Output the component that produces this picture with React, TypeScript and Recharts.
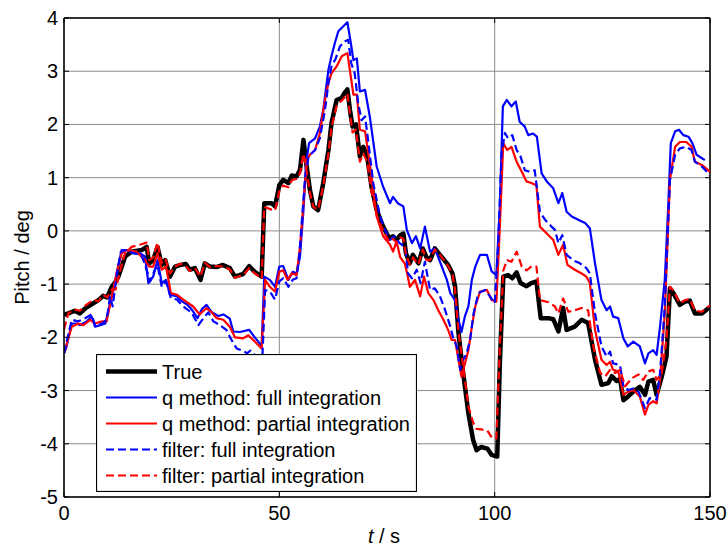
import React from 'react';
import { LineChart, Line, XAxis, YAxis, CartesianGrid, ReferenceLine, Legend } from 'recharts';

// Pitch angle traces, [time (s), pitch (deg)]
const truePitch: [number, number][] = [
  [0, -1.58], [1, -1.55], [2.5, -1.5], [3.7, -1.55], [5, -1.45], [6.8, -1.36], [8, -1.3], [9.1, -1.22],
  [10, -1.25], [11.1, -1.05], [12, -0.95], [12.6, -0.86], [13.5, -0.65], [14.2, -0.48], [15.7, -0.39],
  [18, -0.36], [19.2, -0.3], [19.8, -0.61], [20.7, -0.55], [21.7, -0.3], [22.7, -0.64], [23.5, -0.55],
  [24.6, -0.86], [25.8, -0.67], [27, -0.64], [28.3, -0.62], [29.2, -0.73], [30.4, -0.7], [31.7, -0.92],
  [32.7, -0.61], [33.9, -0.67], [35.4, -0.68], [36.9, -0.64], [38.5, -0.7], [39.7, -0.86], [41.6, -0.81],
  [43, -0.66], [44.3, -0.77], [45.9, -0.86], [46.5, 0.52], [48.2, 0.52], [49, 0.46], [50, 0.86],
  [50.9, 0.96], [52.1, 0.9], [52.9, 1.04], [54, 1.02], [54.8, 1.15], [55.6, 1.71], [56.2, 1.3],
  [57.1, 0.77], [57.9, 0.46], [59, 0.39], [60.2, 0.9], [61.4, 1.52], [62.1, 2.02], [63.3, 2.46],
  [64.5, 2.5], [65.1, 2.59], [65.8, 2.66], [66.4, 2.27], [67, 1.96], [67.8, 2.0], [68.7, 1.4],
  [69.5, 1.58], [70.4, 1.4], [71.4, 0.83], [72.6, 0.39], [74.1, 0.08], [75.5, -0.14], [76.4, -0.1],
  [77.2, -0.17], [78.1, -0.08], [78.8, -0.05], [79.4, -0.42], [80.3, -0.61], [81, -0.45], [82.3, -0.61],
  [83.3, -0.33], [84.2, -0.5], [85, -0.55], [86.1, -0.33], [87.3, -0.45], [89.2, -0.64], [90.2, -0.8],
  [90.8, -1.05], [91.6, -1.92], [92.7, -2.68], [93.9, -3.43], [95, -3.93], [95.8, -4.12], [96.9, -4.06],
  [98.3, -4.09], [99.3, -4.21], [100.6, -4.24], [101.2, -2.49], [102, -0.86], [103.1, -0.83],
  [104.1, -0.89], [105.1, -0.78], [106, -0.98], [107.4, -1.04], [108.5, -0.98], [109.7, -0.95],
  [110.7, -1.64], [112.5, -1.64], [113.6, -1.66], [114.8, -1.89], [115.9, -1.45], [116.7, -1.86],
  [118.6, -1.8], [120.2, -1.67], [121.7, -1.73], [123.3, -2.42], [124.8, -2.89], [126.4, -2.86],
  [127.2, -2.73], [128.3, -2.82], [129.1, -2.78], [129.9, -3.18], [131, -3.11], [132.2, -3.02],
  [133.7, -2.93], [134.9, -3.08], [135.7, -2.83], [136.8, -2.8], [137.6, -3.08], [138.8, -2.74],
  [139.9, -2.36], [140.7, -1.08], [141.5, -1.17], [143, -1.39], [144.2, -1.33], [145.3, -1.31],
  [146.5, -1.55], [148.1, -1.55], [149.2, -1.48], [150, -1.43],
];

const qFull: [number, number][] = [
  [0, -2.3], [0.5, -2.2], [1.8, -1.74], [2.9, -1.74], [3.7, -1.77], [5.3, -1.7], [6.4, -1.61], [7.2, -1.8],
  [8.4, -1.77], [9.6, -1.74], [10.7, -1.36], [11.5, -1.11], [12.2, -0.8], [13.4, -0.36], [14.5, -0.36],
  [16.1, -0.42], [17.6, -0.42], [18.8, -0.48], [19.6, -0.98], [20.7, -0.86], [21.7, -0.55], [22.7, -0.98],
  [23.7, -0.92], [24.6, -1.2], [26.2, -1.23], [27.3, -1.32], [28.5, -1.38], [29.6, -1.47], [31, -1.64],
  [32, -1.47], [33.1, -1.39], [34.3, -1.53], [35.8, -1.6], [37, -1.57], [38.5, -1.65], [39.3, -1.89],
  [40.8, -1.9], [43, -1.86], [44.3, -2.0], [45.9, -2.16], [46.5, -0.86], [47.8, -0.92], [49, -1.05],
  [50, -0.67], [50.9, -0.66], [52.1, -0.92], [53.1, -0.77], [54, -0.8], [54.8, -0.48], [55.6, 0.39],
  [56.2, 1.27], [56.9, 1.65], [58.3, 1.74], [59.4, 1.96], [60.2, 2.27], [61.4, 3.03], [62.1, 3.28],
  [62.9, 3.53], [63.7, 3.75], [64.8, 3.84], [65.8, 3.92], [66.6, 3.53], [67.2, 3.21], [68, 3.24],
  [68.7, 2.62], [69.9, 2.65], [71, 2.15], [72.6, 1.21], [74.1, 0.83], [75.7, 0.52], [76.4, 0.64],
  [77.5, 0.52], [78.8, 0.46], [79.6, 0.02], [80.8, -0.23], [81.7, -0.1], [82.7, -0.33], [83.8, 0.08],
  [85, -0.39], [86.1, -0.33], [87.3, -0.58], [88.9, -0.92], [89.7, -1.17], [90.8, -1.3], [91.6, -1.67],
  [92.3, -1.9], [93.1, -1.6], [93.9, -1.42], [94.7, -0.92], [95.5, -0.67], [96.6, -0.45], [98.2, -0.45],
  [99.3, -0.76], [100.4, -0.83], [101.2, 0.46], [101.9, 2.34], [102.8, 2.46], [103.9, 2.34],
  [104.9, 2.43], [105.8, 2.05], [107, 1.96], [107.8, 1.8], [108.9, 1.83], [109.8, 1.77], [110.9, 1.08],
  [112.1, 0.93], [113.6, 0.8], [114.8, 0.52], [115.7, 0.71], [116.7, 0.36], [117.9, 0.27], [119.4, 0.21],
  [121, 0.15], [122.1, 0.05], [123.3, -0.61], [124.8, -1.3], [126, -1.49], [126.8, -1.42], [127.5, -1.61],
  [128.7, -1.64], [129.9, -2.02], [130.9, -2.17], [132.2, -2.08], [133.7, -2.17], [134.9, -2.49],
  [135.7, -2.3], [136.8, -2.24], [137.6, -2.33], [138.4, -1.8], [139.5, -0.92], [140.3, 0.46],
  [140.9, 1.65], [141.9, 1.87], [142.8, 1.9], [143.8, 1.8], [145, 1.77], [145.9, 1.65], [146.9, 1.43],
  [148.8, 1.33],
];

const qPartial: [number, number][] = [
  [0, -2.3], [1.8, -1.8], [3.3, -1.74], [4.5, -1.77], [6.1, -1.67], [7.2, -1.74], [8.8, -1.7], [9.9, -1.7],
  [11.1, -1.23], [12.2, -0.8], [13.4, -0.42], [14.5, -0.36], [16.8, -0.39], [18.8, -0.55], [19.8, -0.67],
  [20.7, -0.67], [21.7, -0.42], [22.7, -0.73], [23.7, -0.67], [24.8, -1.17], [26.2, -1.2], [27.7, -1.29],
  [28.9, -1.36], [30, -1.42], [31.5, -1.57], [33.1, -1.45], [34.3, -1.53], [35.4, -1.64], [37, -1.67],
  [38.5, -1.8], [39.7, -2.0], [41.6, -2.02], [42.8, -1.96], [44.3, -2.08], [45.9, -2.21], [46.7, -0.92],
  [47.8, -1.05], [49, -1.14], [50, -0.77], [50.9, -0.74], [51.9, -0.92], [52.9, -0.8], [54, -0.83],
  [54.8, -0.3], [55.6, 0.52], [56.4, 1.33], [57.1, 1.43], [58.3, 1.52], [59.4, 1.83], [60.6, 2.46],
  [61.4, 2.78], [62.1, 2.96], [63.3, 3.09], [64.5, 3.28], [65.8, 3.34], [66.6, 2.9], [67.2, 2.56],
  [68, 2.56], [68.7, 1.9], [69.9, 1.87], [71, 1.27], [72.6, 0.27], [74.1, -0.1], [75.7, -0.26],
  [76.4, -0.39], [77.2, -0.2], [78.1, -0.5], [79.1, -0.61], [79.6, -0.77], [80.3, -1.05], [81.5, -0.92],
  [82.7, -1.23], [83.6, -0.86], [84.6, -1.17], [85.8, -1.3], [86.9, -1.49], [88.1, -1.67], [89.2, -1.86],
  [90, -2.05], [90.8, -2.05], [91.6, -2.42], [92.3, -2.74], [93.1, -2.49], [93.9, -2.24], [94.7, -1.8],
  [95.5, -1.42], [96.6, -1.14], [98.2, -1.11], [99.3, -1.3], [100.4, -1.33], [101.2, 0.08], [102, 1.65],
  [102.9, 1.52], [103.9, 1.58], [105.1, 1.3], [106.3, 1.11], [107.4, 0.93], [108.5, 0.9], [109.7, 0.86],
  [110.5, 0.08], [112.1, -0.05], [113.6, -0.17], [114.8, -0.45], [115.9, -0.26], [116.9, -0.64],
  [118.6, -0.73], [120.2, -0.8], [121.3, -0.86], [122.1, -0.98], [123.3, -1.86], [124.8, -2.42],
  [126, -2.52], [126.8, -2.46], [127.5, -2.61], [128.7, -2.64], [129.9, -3.08], [131, -3.02],
  [132.2, -2.99], [133.7, -3.11], [134.9, -3.45], [135.7, -3.27], [136.8, -3.2], [137.6, -3.24],
  [138.4, -2.8], [139.5, -1.55], [140.7, 0.96], [141.9, 1.58], [143, 1.67], [144.5, 1.67], [145.7, 1.58],
  [146.5, 1.3], [148.1, 1.24], [150, 1.11],
];

const filterFull: [number, number][] = [
  [0, -2.3], [1.8, -1.67], [3.3, -1.7], [4.9, -1.64], [6.4, -1.57], [7.2, -1.77], [8.8, -1.74], [9.9, -1.67],
  [10.7, -1.23], [11.3, -1.42], [12.2, -0.86], [13.2, -0.39], [14.5, -0.36], [16.1, -0.42], [18, -0.45],
  [19.2, -0.73], [20, -0.95], [21.1, -0.73], [21.7, -0.64], [22.7, -1.05], [23.7, -0.95], [24.8, -1.26],
  [26.2, -1.29], [27.3, -1.39], [28.5, -1.47], [29.6, -1.53], [31.2, -1.77], [32.4, -1.64], [33.5, -1.53],
  [34.7, -1.7], [36.2, -1.77], [37.7, -1.86], [38.9, -2.05], [40.1, -2.21], [41.5, -2.25], [42.5, -2.3],
  [43.3, -2.25], [44.5, -2.35], [45.7, -2.4], [46.1, -2.3], [46.7, -1.11], [47.8, -1.14], [49, -1.29],
  [50, -0.95], [50.9, -0.89], [52.1, -1.05], [53.1, -0.92], [54, -0.89], [54.6, -0.48], [55.2, 0.14],
  [56, 1.02], [56.8, 1.4], [58.3, 1.52], [59.4, 1.74], [60.6, 2.27], [61.4, 2.78], [62.1, 3.09],
  [63.1, 3.24], [64.1, 3.47], [65.2, 3.56], [66, 3.59], [66.7, 3.15], [67.5, 2.96], [68.3, 2.4],
  [69.1, 2.08], [69.9, 2.15], [70.7, 1.65], [71.8, 0.9], [73.4, 0.27], [74.5, 0.02], [75.7, -0.17],
  [76.8, -0.1], [77.9, -0.23], [79.2, -0.3], [79.9, -0.8], [80.8, -0.89], [81.9, -0.73], [82.8, -0.98],
  [83.8, -0.58], [85, -1.11], [86.1, -1.08], [87.3, -1.23], [88.5, -1.49], [89.7, -1.8], [90.4, -2.02],
  [91.2, -2.17], [92, -2.61], [92.7, -2.42], [93.5, -2.3], [94.3, -2.05], [95.1, -1.55], [96.2, -1.17],
  [97.8, -1.11], [98.9, -1.23], [100, -1.36], [100.8, -0.3], [101.6, 1.46], [102.4, 1.84], [103.1, 1.74],
  [104.1, 1.8], [105.1, 1.52], [106, 1.4], [107, 1.14], [108.2, 1.11], [109.3, 1.14], [110.5, 0.36],
  [111.7, 0.21], [113.2, 0.08], [114, 0.02], [114.8, -0.23], [115.7, -0.08], [116.7, -0.45],
  [118.2, -0.55], [119.8, -0.61], [121.3, -0.7], [122.1, -0.8], [123.3, -1.55], [124.8, -2.17],
  [126, -2.36], [126.8, -2.27], [127.5, -2.49], [129.1, -2.52], [129.9, -2.92], [131, -2.99],
  [132.2, -2.96], [133.4, -3.02], [134.9, -3.33], [136, -3.14], [137.6, -3.17], [138.4, -2.67],
  [139.5, -1.42], [140.7, 0.96], [141.9, 1.43], [143, 1.55], [144.5, 1.58], [145.7, 1.52], [146.5, 1.3],
  [148.1, 1.21], [150, 1.05],
];

const filterPartial: [number, number][] = [
  [0, -1.85], [1, -1.55], [2.5, -1.48], [3.7, -1.5], [5, -1.4], [6.8, -1.3], [8, -1.32], [9.1, -1.2],
  [10, -1.25], [11.1, -1.1], [12, -1.1], [12.6, -0.9], [13.5, -0.6], [14.2, -0.42], [15.7, -0.3],
  [18, -0.25], [19.2, -0.22], [19.8, -0.55], [20.7, -0.5], [21.7, -0.22], [22.7, -0.6], [23.5, -0.52],
  [24.6, -0.8], [25.8, -0.67], [27, -0.62], [28.3, -0.66], [29.2, -0.75], [30.4, -0.7], [31.7, -0.86],
  [32.7, -0.6], [33.9, -0.68], [35.4, -0.66], [36.9, -0.67], [38.5, -0.72], [39.7, -0.88], [41.6, -0.83],
  [43, -0.7], [44.3, -0.8], [45.9, -0.9], [46.5, 0.45], [48.2, 0.4], [49, 0.38], [50, 0.75], [50.9, 0.85],
  [52.1, 0.82], [52.9, 0.95], [54, 0.98], [54.8, 1.08], [55.6, 1.45], [56.2, 1.2], [57.1, 0.72],
  [57.9, 0.45], [59, 0.4], [60.2, 0.85], [61.4, 1.45], [62.1, 1.95], [63.3, 2.35], [64.5, 2.45],
  [65.1, 2.5], [65.8, 2.58], [66.4, 2.2], [67, 1.85], [67.8, 1.9], [68.7, 1.3], [69.5, 1.45], [70.4, 1.3],
  [71.4, 0.75], [72.6, 0.3], [74.1, 0.0], [75.5, -0.2], [76.4, -0.15], [77.2, -0.22], [78.1, -0.12],
  [78.8, -0.15], [79.4, -0.45], [80.3, -0.63], [81, -0.5], [82.3, -0.63], [83.3, -0.35], [84.2, -0.55],
  [85, -0.55], [86.1, -0.35], [87.3, -0.45], [89.2, -0.66], [90.2, -0.82], [90.8, -1.1], [91.6, -1.9],
  [92.7, -2.55], [93.9, -3.3], [95, -3.6], [95.8, -3.72], [96.9, -3.73], [98.3, -3.75], [99.3, -3.88],
  [100.4, -3.9], [101.2, -2.2], [102, -0.74], [102.9, -0.55], [103.9, -0.58], [105.1, -0.39],
  [106.3, -0.67], [107.4, -0.74], [108.5, -0.67], [109.7, -0.67], [110.5, -1.3], [112.5, -1.34],
  [114, -1.42], [114.8, -1.55], [115.9, -1.27], [117.1, -1.52], [118.6, -1.49], [120.2, -1.45],
  [121.7, -1.49], [122.9, -2.17], [124.5, -2.67], [125.7, -2.73], [126.8, -2.61], [128, -2.67],
  [129.1, -2.61], [130.3, -2.92], [131.8, -2.77], [133.4, -2.7], [134.5, -2.8], [135.7, -2.64],
  [136.8, -2.61], [137.6, -2.8], [138.8, -2.67], [139.9, -2.04], [140.7, -1.05], [141.5, -1.12],
  [143, -1.36], [144.2, -1.3], [145.3, -1.28], [146.5, -1.5], [148.1, -1.52], [149.2, -1.45], [150, -1.4],
];

const xTicks = [0, 50, 100, 150];
const yTicks = [-5, -4, -3, -2, -1, 0, 1, 2, 3, 4];

const toRows = (pts: [number, number][]) => pts.map(([t, v]) => ({ t, v }));

type Series = { name: string; pts: [number, number][]; color: string; width: number; dash?: string };
const series: Series[] = [
  { name: 'True', pts: truePitch, color: '#000000', width: 4.5 },
  { name: 'q method: full integration', pts: qFull, color: '#0000ff', width: 2.2 },
  { name: 'q method: partial integration', pts: qPartial, color: '#ff0000', width: 2.2 },
  { name: 'filter: full integration', pts: filterFull, color: '#0000ff', width: 2.2, dash: '8 4' },
  { name: 'filter: partial integration', pts: filterPartial, color: '#ff0000', width: 2.2, dash: '8 4' },
];

const W = 728;
const H = 546;
const M = { top: 18, right: 18, left: 0, bottom: 0 };
const Y_AXIS_W = 64;
const X_AXIS_H = 49;
const PLOT_W = W - M.right - Y_AXIS_W;
const PLOT_H = H - M.top - X_AXIS_H;
const Y_GAP = 6;
const X_GAP = 9;
const INNER = 5;
const FONT = "'Liberation Sans', Arial, sans-serif";

const YTick = (props: any) => {
  const { x, y, payload } = props;
  const ax = x + Y_GAP;
  return (
    <g>
      <line x1={ax} x2={ax + INNER} y1={y} y2={y} stroke="#000" strokeWidth={1} />
      <line x1={ax + PLOT_W - INNER} x2={ax + PLOT_W} y1={y} y2={y} stroke="#000" strokeWidth={1} />
      <text x={x} y={y} dy="0.35em" textAnchor="end" fontSize={20} fontFamily={FONT} fill="#000">
        {payload.value}
      </text>
    </g>
  );
};

const XTick = (props: any) => {
  const { x, y, payload } = props;
  const ay = y - X_GAP;
  return (
    <g>
      <line x1={x} x2={x} y1={ay} y2={ay - INNER} stroke="#000" strokeWidth={1} />
      <line x1={x} x2={x} y1={ay - PLOT_H} y2={ay - PLOT_H + INNER} stroke="#000" strokeWidth={1} />
      <text x={x} y={y} dy="0.71em" textAnchor="middle" fontSize={20} fontFamily={FONT} fill="#000">
        {payload.value}
      </text>
    </g>
  );
};

const LegendBox = () => (
  <svg width={321} height={138} style={{ display: 'block' }}>
    <rect x={0.5} y={0.5} width={320} height={137} fill="#fff" stroke="#000" strokeWidth={1.2} />
    {series.map((s, i) => {
      const cy = 17.5 + 26 * i;
      return (
        <g key={s.name}>
          <line x1={10} x2={61} y1={cy} y2={cy} stroke={s.color} strokeWidth={s.width} strokeDasharray={s.dash} />
          <text x={66} y={cy} dy="0.35em" fontSize={20} fontFamily={FONT} fill="#000">
            {s.name}
          </text>
        </g>
      );
    })}
  </svg>
);

const YLabel = (props: any) => {
  const vb = props.viewBox || { x: 0, y: M.top, width: Y_AXIS_W, height: PLOT_H };
  const cx = vb.x + 22;
  const cy = vb.y + vb.height / 2;
  return (
    <text x={cx} y={cy} dy="0.35em" textAnchor="middle" fontSize={20} fontFamily={FONT} fill="#000"
      transform={`rotate(-90 ${cx} ${cy})`}>
      Pitch / deg
    </text>
  );
};

const XLabel = (props: any) => {
  const vb = props.viewBox || { x: Y_AXIS_W, y: M.top + PLOT_H, width: PLOT_W, height: X_AXIS_H };
  const cx = vb.x + vb.width / 2 - 3;
  return (
    <text x={cx} y={vb.y + 46} textAnchor="middle" fontSize={20} fontFamily={FONT} fill="#000">
      <tspan fontStyle="italic">t</tspan>
      <tspan> / s</tspan>
    </text>
  );
};

export default function App() {
  return (
    <div style={{ position: 'absolute', left: 0, top: 0, width: W, height: H, background: '#fff', fontFamily: FONT }}>
      <LineChart width={W} height={H} margin={M}>
        <CartesianGrid stroke="#8c8c8c" strokeWidth={1} />
        <XAxis
          dataKey="t"
          type="number"
          domain={[0, 150]}
          ticks={xTicks}
          allowDataOverflow
          height={X_AXIS_H}
          tickLine={false}
          tickSize={0}
          tickMargin={X_GAP}
          tick={<XTick />}
          axisLine={{ stroke: '#000', strokeWidth: 1.5 }}
          label={<XLabel />}
        />
        <YAxis
          dataKey="v"
          type="number"
          domain={[-5, 4]}
          ticks={yTicks}
          allowDataOverflow
          width={Y_AXIS_W}
          tickLine={false}
          tickSize={0}
          tickMargin={Y_GAP}
          tick={<YTick />}
          axisLine={{ stroke: '#000', strokeWidth: 1.5 }}
          label={<YLabel />}
        />
        <ReferenceLine y={4} stroke="#000" strokeWidth={1.5} />
        <ReferenceLine x={150} stroke="#000" strokeWidth={1.5} />
        {series.map((s) => (
          <Line
            key={s.name}
            name={s.name}
            data={toRows(s.pts)}
            dataKey="v"
            type="linear"
            stroke={s.color}
            strokeWidth={s.width}
            strokeDasharray={s.dash}
            strokeLinejoin="round"
            dot={false}
            activeDot={false}
            isAnimationActive={false}
          />
        ))}
        <Legend
          layout="vertical"
          align="center"
          verticalAlign="middle"
          wrapperStyle={{ left: 96, top: 354, width: 321, height: 138 }}
          content={<LegendBox />}
        />
      </LineChart>
    </div>
  );
}
